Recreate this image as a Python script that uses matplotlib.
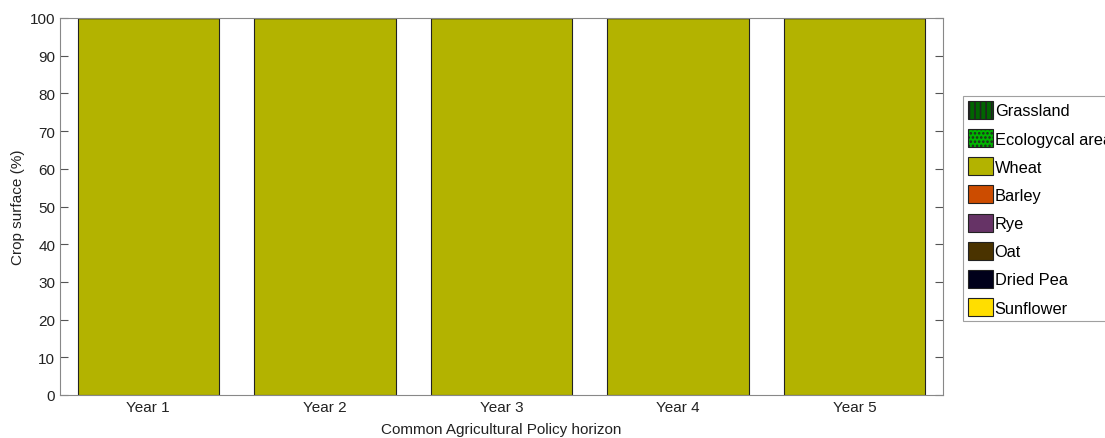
import matplotlib.pyplot as plt
import numpy as np

plt.rcParams['font.family'] = ['Liberation Sans', 'DejaVu Sans']
plt.rcParams['hatch.color'] = 'black'
plt.rcParams['hatch.linewidth'] = 1.2

years = ['Year 1', 'Year 2', 'Year 3', 'Year 4', 'Year 5']
crops = ['Grassland', 'Ecologycal area', 'Wheat', 'Barley', 'Rye', 'Oat', 'Dried Pea', 'Sunflower']
grassland = [0, 0, 0, 0, 0]
ecological = [0, 0, 0, 0, 0]
wheat = [100, 100, 100, 100, 100]
barley = [0, 0, 0, 0, 0]
rye = [0, 0, 0, 0, 0]
oat = [0, 0, 0, 0, 0]
dried_pea = [0, 0, 0, 0, 0]
sunflower = [0, 0, 0, 0, 0]

colors = ['#006400', '#00b400', '#b3b300', '#cc4c00', '#663366', '#4a3300', '#00001a', '#ffde00']
hatches = ['|||', '....', None, None, None, None, None, None]

fig = plt.figure(figsize=(11.05, 4.39), dpi=100)
ax = fig.add_axes([60/1105, 1-396/439, 883/1105, 377/439])

x = np.arange(1, 6)
bottom = np.zeros(5)
handles = []
for name, vals, c, h in zip(crops, [grassland, ecological, wheat, barley, rye, oat, dried_pea, sunflower], colors, hatches):
    vals = np.array(vals, dtype=float)
    b = ax.bar(x, vals, 0.8, bottom=bottom, color=c, edgecolor='#222222', linewidth=0.8,
               hatch=h, label=name)
    handles.append(b)
    bottom += vals

ax.set_xlim(0.5, 5.5)
ax.set_ylim(0, 100)
ax.set_yticks(np.arange(0, 101, 10))
ax.set_xticks(x)
ax.set_xticklabels(years)
ax.tick_params(direction='in', length=6, width=0.8, color='#555555', labelsize=11,
               labelcolor='#222222', right=True, top=False)
ax.tick_params(axis='x', length=0)
for s in ax.spines.values():
    s.set_color('#888888')
ax.set_xlabel('Common Agricultural Policy horizon', fontsize=11, color='#222222', labelpad=6)
ax.set_ylabel('Crop surface (%)', fontsize=11, color='#222222', labelpad=3)

leg = fig.legend(handles=handles, loc='upper left', bbox_to_anchor=(963/1105, 1-97/439),
                 fontsize=11.8, frameon=True, fancybox=False, edgecolor='#888888',
                 handlelength=1.55, handleheight=1.3, handletextpad=0.08,
                 labelspacing=0.63, borderpad=0.3, borderaxespad=0)
leg.get_frame().set_linewidth(0.8)

plt.savefig('out.png', dpi=100)
